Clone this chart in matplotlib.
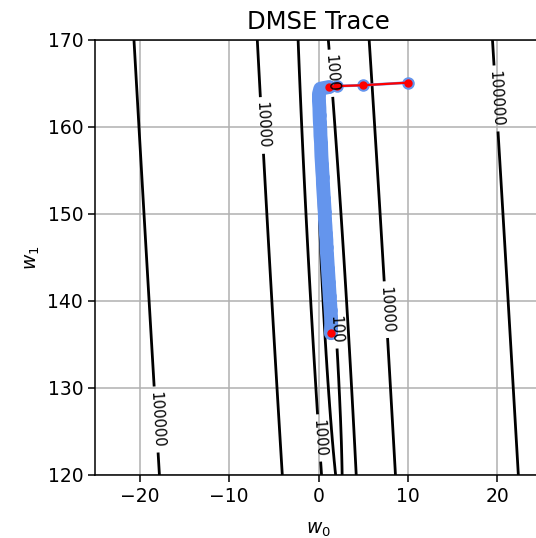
import numpy as np
import matplotlib
matplotlib.use('Agg')
import matplotlib.pyplot as plt

# error surface E(w0, w1)
# E = a*(w0 - c0 - s*(w1 - c1))**2 + b*(w1 - c1)**2
center = [1.35, 136.2]
slope = -0.0574
curv = [248.0, 0.255]
levels = [100, 1000, 10000, 100000]

# gradient descent trace (w0, w1)
trace_w0 = [10.0, 5.0, 2.1, 1.2,
            0.2, 0.05, 0.05, 0.1, 0.12, 0.15, 0.2, 0.22, 0.28, 0.3,
            0.33, 0.38, 0.42, 0.48, 0.5, 0.55, 0.6, 0.65, 0.7, 0.72,
            0.78, 0.82, 0.88, 0.9, 0.95, 1.0, 1.05, 1.1, 1.15, 1.2,
            1.25, 1.3, 1.35, 1.4, 1.42, 1.4, 1.38]
trace_w1 = [165.1, 164.8, 164.7, 164.6,
            164.4, 163.8, 163.0, 162.2, 161.4, 160.6, 159.8, 159.0, 158.2, 157.4,
            156.6, 155.8, 155.0, 154.2, 153.4, 152.6, 151.8, 151.0, 150.2, 149.4,
            148.6, 147.8, 147.0, 146.2, 145.4, 144.6, 143.8, 143.0, 142.2, 141.4,
            140.6, 139.8, 139.0, 138.2, 137.4, 136.8, 136.3]
n_first = 4

# where the contour labels sit
label_spots = [(-17.8, 126.4), (20.2, 163.3), (-5.9, 160.2), (7.5, 139.0),
               (1.7, 166.2), (0.7, 124.3), (1.65, 136.7)]

plt.rcParams['font.size'] = 13.5

w0 = np.linspace(-25, 25, 500)
w1 = np.linspace(120, 170, 500)
W0, W1 = np.meshgrid(w0, w1)
E = curv[0] * (W0 - center[0] - slope * (W1 - center[1])) ** 2 + curv[1] * (W1 - center[1]) ** 2

fig = plt.figure(figsize=(5.36, 5.38), dpi=100)
ax = fig.add_axes([95 / 536, 63 / 538, 447 / 536, 435 / 538])

cs = ax.contour(W0, W1, E, levels=levels, colors='k', linewidths=2.0)
ax.clabel(cs, fmt='%d', fontsize=10.5, inline=True, manual=label_spots)

# blue trace: markers on every step, the slow crawl down the valley looks like a thick stroke
ax.plot(trace_w0, trace_w1, 'o-', color='cornflowerblue', markersize=8, lw=2)
ax.plot(trace_w0[n_first - 1:], trace_w1[n_first - 1:], '-', color='cornflowerblue',
        lw=10, solid_capstyle='round', solid_joinstyle='round')
ax.plot(trace_w0[:n_first], trace_w1[:n_first], 'o-', color='red', markersize=5, lw=1.6)
ax.plot(trace_w0[-1], trace_w1[-1], 'o', color='red', markersize=5)

ax.set_xlim(-25, 25)
ax.set_ylim(120, 170)
ax.set_xticks([-20, -10, 0, 10, 20])
ax.grid(True, lw=1.1)
ax.tick_params(length=5, width=1.1)
for s in ax.spines.values():
    s.set_linewidth(1.1)
ax.set_xlabel('$w_0$', labelpad=10)
ax.set_ylabel('$w_1$')
ax.set_title('DMSE Trace', fontsize=17.5, pad=8)

fig.savefig('out.png', dpi=100)
